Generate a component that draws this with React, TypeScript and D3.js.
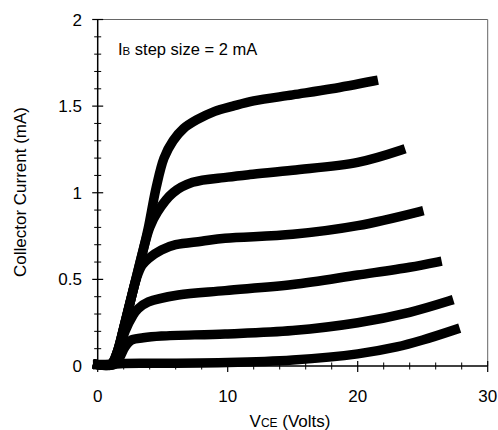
import React from 'react';
import * as d3 from 'd3';

// I-V curves, one array of [VCE (V), IC (mA)] per base-current step
const ib0: [number, number][] = [[0, 0.008], [1, 0.01], [2, 0.015], [5, 0.016], [10, 0.02], [15, 0.035], [20, 0.07], [23, 0.11], [25, 0.15], [27.5, 0.21]];
const ib1: [number, number][] = [[0, 0.008], [1.3, 0.01], [1.7, 0.05], [2.1, 0.11], [2.6, 0.15], [3.5, 0.163], [4.9, 0.173], [9.8, 0.185], [15, 0.205], [20, 0.25], [24, 0.31], [27, 0.375]];
const ib2: [number, number][] = [[0, 0.008], [1.2, 0.01], [1.6, 0.08], [2.1, 0.2], [2.7, 0.29], [3.1, 0.33], [3.9, 0.37], [6.2, 0.41], [9.8, 0.435], [15, 0.47], [20, 0.525], [24, 0.57], [26.1, 0.6]];
const ib3: [number, number][] = [[0, 0.008], [1.1, 0.01], [1.5, 0.08], [2.0, 0.22], [2.5, 0.37], [3.0, 0.51], [3.4, 0.58], [3.9, 0.62], [4.9, 0.67], [6, 0.7], [8, 0.72], [9.8, 0.737], [15, 0.76], [20, 0.81], [24.7, 0.89]];
const ib4: [number, number][] = [[0, 0.008], [1.0, 0.01], [1.5, 0.08], [2.0, 0.22], [2.5, 0.37], [3.0, 0.52], [3.5, 0.67], [4.0, 0.8], [4.6, 0.89], [5.8, 1.0], [7.3, 1.06], [10, 1.09], [11.7, 1.105], [15, 1.13], [20, 1.175], [23.3, 1.245]];
const ib5: [number, number][] = [[0, 0.008], [1.0, 0.01], [1.5, 0.08], [2.0, 0.22], [2.5, 0.37], [3.0, 0.52], [3.5, 0.67], [3.9, 0.8], [4.5, 1.03], [5.1, 1.2], [5.8, 1.3], [6.6, 1.37], [7.6, 1.42], [9, 1.47], [10.4, 1.5], [12, 1.53], [15, 1.565], [18, 1.6], [21.2, 1.645]];
const curves = [ib0, ib1, ib2, ib3, ib4, ib5];

const xMajor = [0, 10, 20, 30];
const yMajor = [0, 0.5, 1, 1.5, 2];

const W = 498;
const H = 430;
const left = 97.7, right = 487.7, top = 19.5, bottom = 366;

export default function App() {
  const x = d3.scaleLinear().domain([0, 30]).range([left, right]);
  const y = d3.scaleLinear().domain([0, 2]).range([bottom, top]);
  const line = d3.line<[number, number]>()
    .x(d => x(d[0]))
    .y(d => y(d[1]))
    .curve(d3.curveCatmullRom.alpha(0.5));

  const xMinor = d3.range(0, 30.01, 2).filter(v => !xMajor.includes(v));
  const yMinor = d3.range(0, 2.001, 0.1).map(v => +v.toFixed(1)).filter(v => !yMajor.includes(v));
  const font = '"Liberation Sans", Arial, sans-serif';

  return (
    <svg width={W} height={H} style={{ position: 'absolute', left: 0, top: 0 }} fontFamily={font}>
      <rect width={W} height={H} fill="#fff" />
      {/* frame */}
      <line x1={left} x2={right} y1={top} y2={top} stroke="#666" strokeWidth={1} />
      <line x1={right} x2={right} y1={top} y2={bottom} stroke="#666" strokeWidth={1} />
      <line x1={left} x2={left} y1={top} y2={bottom} stroke="#000" strokeWidth={1.5} />
      <line x1={left} x2={right} y1={bottom} y2={bottom} stroke="#000" strokeWidth={1.5} />

      {/* y ticks */}
      {yMajor.map(v => (
        <g key={'ym' + v}>
          <line x1={left - 5.5} x2={left + 5.5} y1={y(v)} y2={y(v)} stroke="#000" strokeWidth={1.2} />
          <text x={82} y={y(v) + 6} textAnchor="end" fontSize={17}>{v}</text>
        </g>
      ))}
      {yMinor.map(v => (
        <line key={'yn' + v} x1={left - 3.5} x2={left + 3.5} y1={y(v)} y2={y(v)} stroke="#000" strokeWidth={1} />
      ))}

      {/* x ticks */}
      {xMajor.map(v => (
        <g key={'xm' + v}>
          <line x1={x(v)} x2={x(v)} y1={bottom - 5} y2={bottom + 6} stroke="#000" strokeWidth={1.2} />
          <text x={x(v)} y={402} textAnchor="middle" fontSize={17}>{v}</text>
        </g>
      ))}
      {xMinor.map(v => (
        <line key={'xn' + v} x1={x(v)} x2={x(v)} y1={bottom - 3.5} y2={bottom + 3.5} stroke="#000" strokeWidth={1} />
      ))}

      {/* curves */}
      {curves.map((c, i) => (
        <path key={i} d={line(c) || ''} fill="none" stroke="#000" strokeWidth={9.5} strokeLinejoin="round" strokeLinecap="square" />
      ))}

      {/* annotation */}
      <text x={118} y={55} fontSize={16.5}>
        I<tspan fontSize={11.5}>B</tspan> step size = 2 mA
      </text>

      {/* axis titles */}
      <text x={290} y={427} textAnchor="middle" fontSize={17}>
        V<tspan fontSize={12}>CE</tspan> (Volts)
      </text>
      <text transform={`translate(26, 192) rotate(-90)`} textAnchor="middle" fontSize={17}>
        Collector Current (mA)
      </text>
    </svg>
  );
}
